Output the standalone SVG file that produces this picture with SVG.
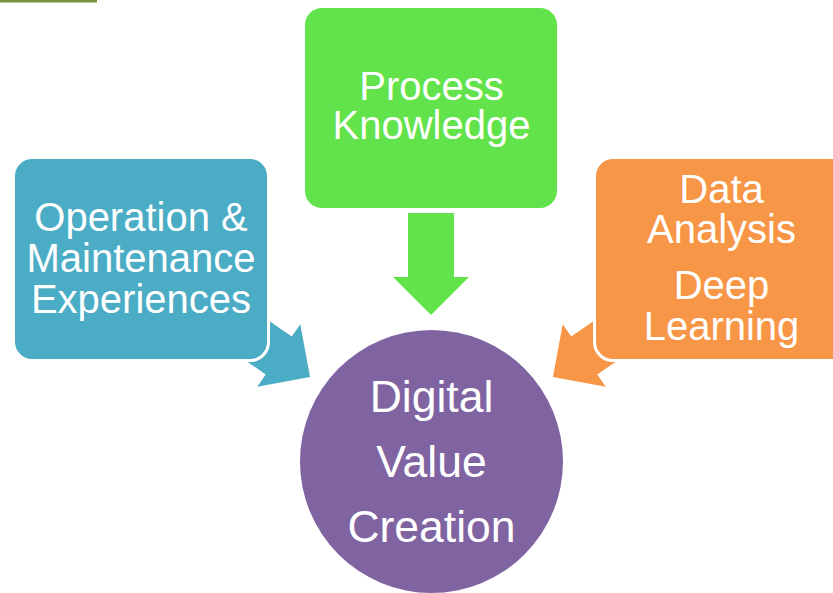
<svg xmlns="http://www.w3.org/2000/svg" width="833" height="593" viewBox="0 0 833 593">
<defs>
<style>
.box{stroke:#ffffff;stroke-width:6;paint-order:stroke fill}
.t{font-family:"Liberation Sans",Arial,sans-serif;fill:#ffffff;text-anchor:middle}
.tb{font-size:40px}
.tc{font-size:44.5px}
</style>
<path id="arr" d="M0,-23 L64,-23 L64,-38 L102,0 L64,38 L64,23 L0,23 Z"/>
</defs>
<rect x="0" y="0" width="833" height="593" fill="#ffffff"/>
<rect x="0" y="0" width="97" height="2.5" fill="#77933C"/>
<g id="connectors">
<use href="#arr" fill="#62E24B" transform="translate(431,213) rotate(90)"/>
<use href="#arr" fill="#4BACC6" transform="translate(226,319.2) rotate(34.5)"/>
<use href="#arr" fill="#F79646" transform="translate(637,319.2) rotate(145.5)"/>
</g>
<g id="node-om">
<rect class="box" x="15" y="159" width="252" height="200" rx="17" fill="#4BACC6"/>
<text class="t tb" x="141" y="230.5">Operation &amp;</text>
<text class="t tb" x="141" y="272">Maintenance</text>
<text class="t tb" x="141" y="313">Experiences</text>
</g>
<g id="node-pk">
<rect class="box" x="305" y="8" width="252" height="200" rx="17" fill="#62E24B"/>
<text class="t tb" x="431.5" y="100">Process</text>
<text class="t tb" x="431.5" y="139">Knowledge</text>
</g>
<g id="node-da">
<rect class="box" x="596" y="159" width="252" height="200" rx="17" fill="#F79646"/>
<text class="t tb" x="721.5" y="202.5">Data</text>
<text class="t tb" x="721.5" y="242.5">Analysis</text>
<text class="t tb" x="721.5" y="298.5">Deep</text>
<text class="t tb" x="721.5" y="339.5">Learning</text>
</g>
<g id="node-dvc">
<circle cx="431.5" cy="461.5" r="131.5" fill="#8064A2"/>
<text class="t tc" x="431.5" y="412">Digital</text>
<text class="t tc" x="431.5" y="477">Value</text>
<text class="t tc" x="431.5" y="542">Creation</text>
</g>
</svg>
